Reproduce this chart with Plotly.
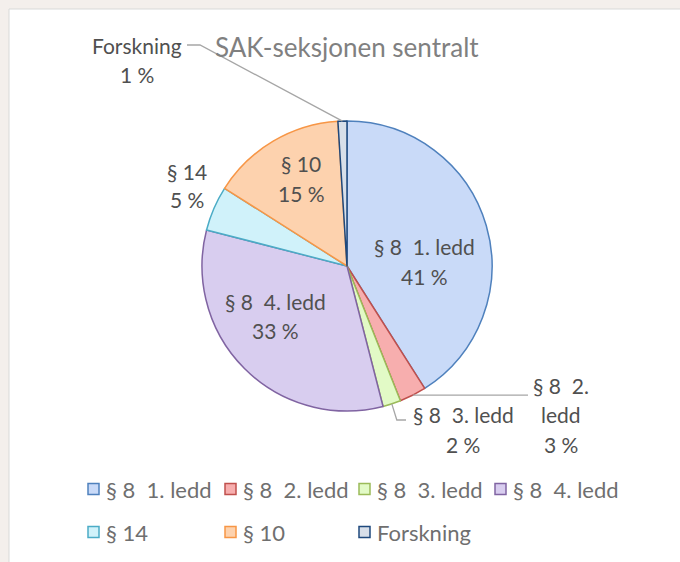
import math
import plotly.graph_objects as go

# ---------------- data ----------------
categories = ["§ 8\u00a0 1. ledd", "§ 8\u00a0 2. ledd", "§ 8\u00a0 3. ledd", "§ 8\u00a0 4. ledd",
              "§ 14", "§ 10", "Forskning"]
values = [41, 3, 2, 33, 5, 15, 1]
title_text = "SAK-seksjonen sentralt"

# ---------------- styles ----------------
fill_colors = ["#c9daf8", "#f7aeae", "#e2fac6", "#d8cdef", "#d0f2fa", "#fdd2ae", "#d8dfe9"]
line_colors = ["#4f81bd", "#c0504d", "#9bbb59", "#8064a2", "#4bacc6", "#f79646", "#1f497d"]
FONT = "Lato, Carlito, Calibri, sans-serif"
W, H = 680, 562
CX, CY, R = 347, 266, 145  # pie centre / radius in pixels

def px(x):
    return x / W

def py(y):
    return 1 - y / H

# label layout (pixel centres of the text lines); wrap for § 8 2. ledd
label_pos = {
    0: [(424, 247), (424, 276)],
    1: [(561, 385), (561, 414), (561, 444)],
    2: [(463, 414), (463, 444)],
    3: [(275, 301), (275, 330)],
    4: [(187, 171), (187, 199)],
    5: [(301, 163), (301, 193)],
    6: [(137, 45), (137, 75)],
}

fig = go.Figure()
fig.add_trace(go.Pie(
    labels=categories,
    values=values,
    sort=False,
    direction="clockwise",
    rotation=0,
    textinfo="none",
    marker=dict(colors=fill_colors, line=dict(color=line_colors, width=1.5)),
    domain=dict(x=[px(CX - R), px(CX + R)], y=[py(CY + R), py(CY - R)]),
    showlegend=False,
    hoverinfo="label+percent",
))

annotations = []
shapes = []

# white chart panel on beige background
shapes.append(dict(type="rect", xref="paper", yref="paper",
                   x0=px(9), x1=1.01, y0=-0.01, y1=py(9),
                   fillcolor="white", line=dict(color="#d9d9d9", width=1), layer="below"))

# title
annotations.append(dict(text=title_text, x=px(347), y=py(47), xref="paper", yref="paper",
                        showarrow=False, xanchor="center", yanchor="middle",
                        font=dict(family=FONT, size=26, color="#808080")))

# data labels
total = sum(values)
cum = 0
mid_angles = []
for i, v in enumerate(values):
    mid = (cum + v / 2) / total * 2 * math.pi
    mid_angles.append(mid)
    cum += v
    pct = f"{round(v / total * 100)} %"
    if i == 1:
        lines = ["§ 8\u00a0 2.", "ledd", pct]
    else:
        lines = [categories[i], pct]
    for (lx, ly), t in zip(label_pos[i], lines):
        annotations.append(dict(text=t, x=px(lx), y=py(ly), xref="paper", yref="paper",
                                showarrow=False, xanchor="center", yanchor="middle",
                                font=dict(family=FONT, size=21, color="#505050")))

def arc_point(i):
    a = mid_angles[i]
    return CX + R * math.sin(a), CY - R * math.cos(a)

lc = dict(color="#a6a6a6", width=1.3)
# leader: Forskning
ax, ay = arc_point(6)
pts = [(187, 45), (200, 45), (ax, ay)]
shapes.append(dict(type="path", xref="paper", yref="paper", line=lc,
                   path="M " + " L ".join(f"{px(x)},{py(y)}" for x, y in pts)))
# leader: § 8 3. ledd
ax, ay = arc_point(2)
pts = [(ax, ay), (ax + 5, 420), (406, 420)]
shapes.append(dict(type="path", xref="paper", yref="paper", line=lc,
                   path="M " + " L ".join(f"{px(x)},{py(y)}" for x, y in pts)))
# leader: § 8 2. ledd
ax, ay = arc_point(1)
pts = [(ax, ay), (528, ay)]
shapes.append(dict(type="path", xref="paper", yref="paper", line=lc,
                   path="M " + " L ".join(f"{px(x)},{py(y)}" for x, y in pts)))

# legend (two rows, Excel style)
col_x = [88, 225, 359, 495]
row_y = [489, 532]
for i, name in enumerate(categories):
    r, c = divmod(i, 4)
    x0, yc = col_x[c], row_y[r]
    shapes.append(dict(type="rect", xref="paper", yref="paper",
                       x0=px(x0), x1=px(x0 + 11), y0=py(yc + 5.5), y1=py(yc - 5.5),
                       fillcolor=fill_colors[i], line=dict(color=line_colors[i], width=1.5)))
    annotations.append(dict(text=name, x=px(x0 + 16), y=py(yc), xref="paper", yref="paper",
                            showarrow=False, xanchor="left", yanchor="middle",
                            font=dict(family=FONT, size=22, color="#6f6f6f")))

fig.update_layout(
    width=W, height=H,
    margin=dict(l=0, r=0, t=0, b=0),
    paper_bgcolor="#f4efec",
    plot_bgcolor="white",
    annotations=annotations,
    shapes=shapes,
    showlegend=False,
)

fig.write_html("out.html", config={"displayModeBar": False},
               post_script="document.body.style.margin='0';document.body.style.overflow='hidden';")
